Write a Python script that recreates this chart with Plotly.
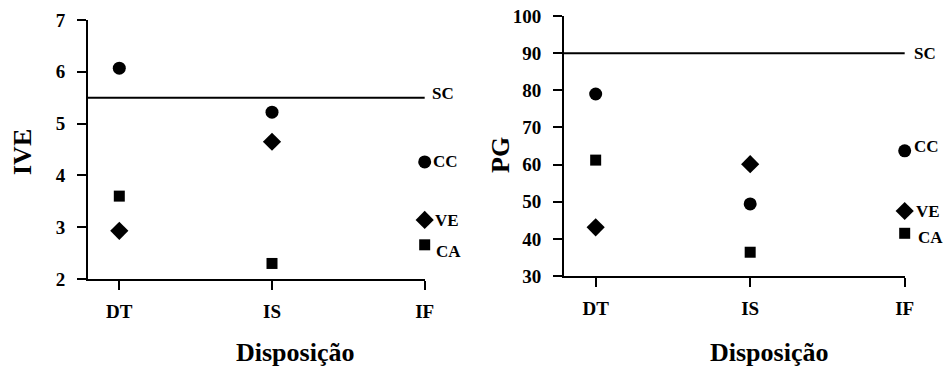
import plotly.graph_objects as go

W, H = 943, 367

# Disposição categories
categories = ["DT", "IS", "IF"]
cat_pos = [0, 1, 2]

# IVE values per treatment
ive_cc = [6.07, 5.22, 4.26]
ive_ve = [2.93, 4.65, 3.14]
ive_ca = [3.60, 2.30, 2.66]
ive_sc = 5.5
ive_ticks = [2, 3, 4, 5, 6, 7]

# PG values per treatment
pg_cc = [79.0, 49.4, 63.7]
pg_ve = [43.1, 60.1, 47.5]
pg_ca = [61.2, 36.4, 41.5]
pg_sc = 90
pg_ticks = [30, 40, 50, 60, 70, 80, 90, 100]

series_names = ["CC", "VE", "CA"]
symbols = {"CC": "circle", "VE": "diamond", "CA": "square"}
sizes = {"CC": 13, "VE": 14, "CA": 11}

FONT = "Liberation Serif"


def px_x(p):
    return p / W


def px_y(p):
    return 1 - p / H


def bold(s):
    return "<b>%s</b>" % s


fig = go.Figure()

panels = [
    dict(xa="x", ya="y", data={"CC": ive_cc, "VE": ive_ve, "CA": ive_ca}, sc=ive_sc,
         label_off={"CC": (6, 0), "VE": (8, -1), "CA": (9, -7)}, sc_off=(5, 4)),
    dict(xa="x2", ya="y2", data={"CC": pg_cc, "VE": pg_ve, "CA": pg_ca}, sc=pg_sc,
         label_off={"CC": (7, 4), "VE": (9, 0), "CA": (11, -4)}, sc_off=(7, 0)),
]

label_font = dict(family=FONT, size=17, color="black")
annotations = []
for pnl in panels:
    # SC reference line
    fig.add_trace(go.Scatter(
        x=[-0.21, 2.0], y=[pnl["sc"], pnl["sc"]], mode="lines",
        line=dict(color="black", width=2), xaxis=pnl["xa"], yaxis=pnl["ya"],
        showlegend=False, hoverinfo="skip"))
    for name in series_names:
        fig.add_trace(go.Scatter(
            x=cat_pos, y=pnl["data"][name], mode="markers", name=name,
            marker=dict(symbol=symbols[name], size=sizes[name], color="black",
                        line=dict(width=0)),
            xaxis=pnl["xa"], yaxis=pnl["ya"], cliponaxis=False, showlegend=False))
        dx, dy = pnl["label_off"][name]
        annotations.append(dict(
            x=cat_pos[-1], y=pnl["data"][name][-1], xref=pnl["xa"], yref=pnl["ya"],
            text=bold(name), showarrow=False, xanchor="left", yanchor="middle",
            xshift=dx, yshift=dy, font=label_font))
    annotations.append(dict(
        x=cat_pos[-1], y=pnl["sc"], xref=pnl["xa"], yref=pnl["ya"],
        text=bold("SC"), showarrow=False, xanchor="left", yanchor="middle",
        xshift=pnl["sc_off"][0], yshift=pnl["sc_off"][1], font=label_font))

# Axis titles
title_font = dict(family=FONT, size=26, color="black")
annotations += [
    dict(x=px_x(22), y=px_y(152), xref="paper", yref="paper", text=bold("IVE"),
         textangle=-90, showarrow=False, xanchor="center", yanchor="middle", font=title_font),
    dict(x=px_x(500), y=px_y(155), xref="paper", yref="paper", text=bold("PG"),
         textangle=-90, showarrow=False, xanchor="center", yanchor="middle", font=title_font),
    dict(x=px_x(295), y=px_y(352), xref="paper", yref="paper", text=bold("Disposição"),
         showarrow=False, xanchor="center", yanchor="middle", font=title_font),
    dict(x=px_x(769), y=px_y(352), xref="paper", yref="paper", text=bold("Disposição"),
         showarrow=False, xanchor="center", yanchor="middle", font=title_font),
]

tick_font = dict(family=FONT, size=19, color="black")
common_x = dict(tickmode="array", tickvals=cat_pos, ticktext=[bold(c) for c in categories],
                range=[-0.205, 2.002], showgrid=False, zeroline=False,
                showline=True, linecolor="black", linewidth=2,
                ticks="outside", ticklen=9, tickwidth=2, tickcolor="black",
                tickfont=tick_font, ticklabelstandoff=5, automargin=False)
common_y = dict(showgrid=False, zeroline=False, showline=True, linecolor="black",
                linewidth=2, ticks="outside", ticklen=9, tickwidth=2,
                tickcolor="black", tickfont=tick_font, ticklabelstandoff=8,
                automargin=False)

fig.update_layout(
    width=W, height=H, margin=dict(l=0, r=0, t=0, b=0),
    paper_bgcolor="white", plot_bgcolor="white",
    font=dict(family=FONT, color="black"),
    xaxis=dict(domain=[px_x(88), px_x(425)], anchor="y", **common_x),
    yaxis=dict(domain=[px_y(279), px_y(20)], anchor="x", range=[2, 7],
               tickmode="array", tickvals=ive_ticks,
               ticktext=[bold(t) for t in ive_ticks], **common_y),
    xaxis2=dict(domain=[px_x(564), px_x(905)], anchor="y2", **common_x),
    yaxis2=dict(domain=[px_y(276), px_y(16)], anchor="x2", range=[30, 100],
                tickmode="array", tickvals=pg_ticks,
                ticktext=[bold(t) for t in pg_ticks], **common_y),
    annotations=annotations,
)

fig.write_html("out.html")
